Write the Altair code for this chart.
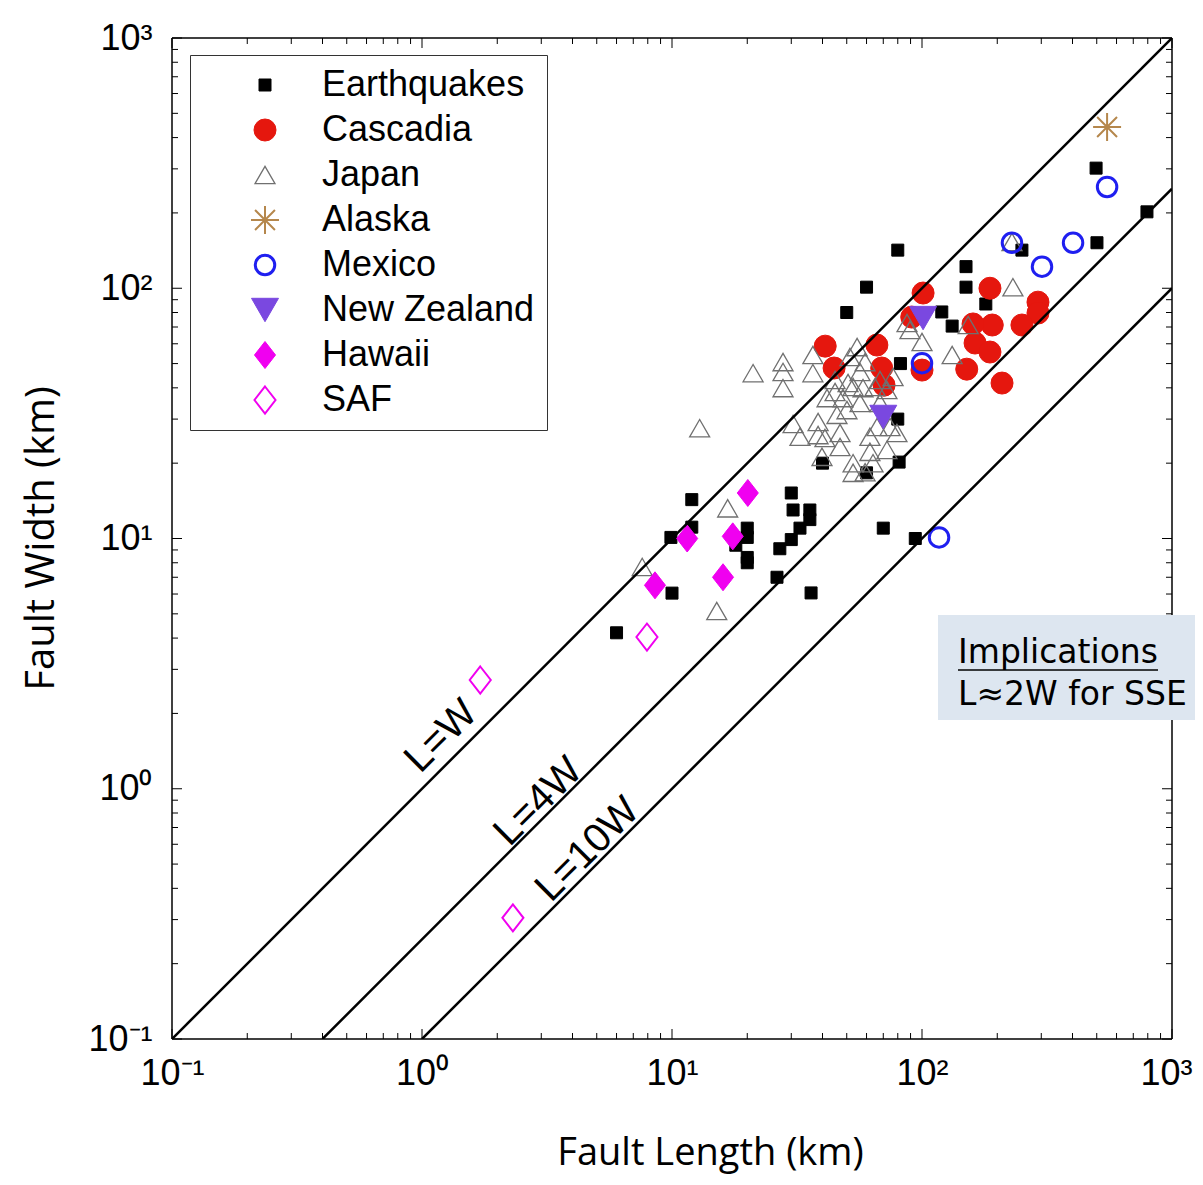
import altair as alt
import pandas as pd

# ---------------- data: Fault Length L (km), Fault Width W (km) ----------------
eq_L = [497, 794, 501, 251, 150, 150, 180, 120, 132, 80, 60, 50, 82, 80, 40, 60, 81,
        30, 30.5, 35.6, 35.6, 32.5, 30, 27, 26.3, 36, 70, 94,
        12, 9.9, 12, 20, 20, 18, 20, 20, 10, 6.0]
eq_W = [302, 202, 152, 142, 122, 101, 86.5, 80.4, 70.6, 142, 101, 80, 50, 30, 20, 18.3, 20.2,
        15.2, 13, 13, 11.9, 11, 9.9, 9.1, 7.0, 6.06, 11, 10,
        14.3, 10.1, 11.1, 11, 10.1, 9.4, 8.4, 8.0, 6.05, 4.2]

cas_L = [101, 91, 187, 291, 291, 251, 191, 160, 163, 187, 151, 209, 41, 44.5, 66, 69, 70.5, 100]
cas_W = [95.7, 76.7, 100, 88, 79.6, 71.3, 71.3, 72, 60.4, 55.6, 47.5, 41.8, 58.7, 48, 59.3, 48, 41, 47.1]

jap_L = [12.9, 21.1, 27.8, 27.8, 27.8, 36.6, 36.6, 30.5, 32.5, 38.4, 38.4, 47.0, 47.0, 41.7,
         48.3, 53.0, 50.1, 56.5, 59.2, 55.0, 64.9, 61.9, 61.9, 63.7, 53.0, 53.0, 44.9, 44.9,
         50.6, 56.5, 58.1, 67.9, 72.4, 67.9, 76.6, 100, 87.1, 132, 153, 231, 229, 74.5, 79.4,
         66.1, 40.9, 39.8, 59.2, 72.4, 16.7, 7.6, 15.1, 89.5, 51.5, 45.7]
jap_W = [27.6, 45.8, 50.7, 46.3, 39.9, 54.1, 45.8, 28.7, 25.5, 29.2, 25.9, 26.4, 23.2, 36.4,
         36.4, 40.3, 32.6, 34.8, 50.7, 58.2, 40.3, 25.5, 22.2, 20.0, 20.0, 18.3, 43.0, 38.5,
         41.8, 46.3, 39.9, 43.0, 39.2, 34.8, 44.2, 61.0, 72.6, 54.1, 71.3, 101, 153, 27.9, 26.4,
         27.9, 25.2, 21.2, 18.4, 22.6, 13.2, 7.7, 5.13, 68.1, 53.1, 31.2]

ala_L = [550]
ala_W = [441]

mex_L = [550, 229, 302, 402, 100, 117]
mex_W = [254, 152, 122, 152, 50.2, 10.1]

nz_L = [101, 70]
nz_W = [76, 30.6]

haw_L = [20.1, 11.5, 17.5, 16.0, 8.55]
haw_W = [15.2, 10.0, 10.2, 7.0, 6.5]

saf_L = [1.71, 7.94, 2.31]
saf_W = [2.72, 4.04, 0.305]

series_names = ["Earthquakes", "Cascadia", "Japan", "Alaska", "Mexico",
                "New Zealand", "Hawaii", "SAF"]

# reference lines L = k W
ref_names = ["L=W", "L=4W", "L=10W"]
ref_L = [[0.1, 1000], [0.4, 1000], [1, 1000]]
ref_W = [[0.1, 1000], [0.1, 250], [0.1, 100]]
ref_label_L = [1.29, 3.16, 4.97]
ref_label_W = [1.50, 0.822, 0.529]

major_ticks = [0.1, 1, 10, 100, 1000]
major_text = ["10\u207b\u00b9", "10\u2070", "10\u00b9", "10\u00b2", "10\u00b3"]
minor_ticks = [0.2, 0.3, 0.4, 0.5, 0.6, 0.7, 0.8, 0.9,
               2, 3, 4, 5, 6, 7, 8, 9,
               20, 30, 40, 50, 60, 70, 80, 90,
               200, 300, 400, 500, 600, 700, 800, 900]

box_lines = ["Implications", "L\u22482W for SSE"]

# ---------------- tables ----------------
all_L = [eq_L, cas_L, jap_L, ala_L, mex_L, nz_L, haw_L, saf_L]
all_W = [eq_W, cas_W, jap_W, ala_W, mex_W, nz_W, haw_W, saf_W]
pts = pd.concat([pd.DataFrame({"series": n, "L": l, "W": w})
                 for n, l, w in zip(series_names, all_L, all_W)], ignore_index=True)

lines_df = pd.concat([pd.DataFrame({"name": n, "L": l, "W": w})
                      for n, l, w in zip(ref_names, ref_L, ref_W)], ignore_index=True)
lab_df = pd.DataFrame({"name": ref_names, "L": ref_label_L, "W": ref_label_W})
major_df = pd.DataFrame({"v": major_ticks})
minor_df = pd.DataFrame({"v": minor_ticks})
one = pd.DataFrame({"k": [0]})

# ---------------- styling ----------------
W_PX, H_PX = 1000, 1001
TICK_FONT = "Liberation Sans"
TITLE_FONT = "Open Sans"
BOX_FONT = "DejaVu Sans"

xs = alt.Scale(type="log", domain=[0.1, 1000])
ys = alt.Scale(type="log", domain=[0.1, 1000])

label_expr = " : ".join(f"datum.value == {v} ? '{t}'" for v, t in zip(major_ticks, major_text)) + " : ''"

xaxis = alt.Axis(values=major_ticks, labelExpr=label_expr, ticks=False, domain=False, grid=False,
                 labelFont=TICK_FONT, labelFontSize=36, labelPadding=17, labelColor="black",
                 labelFlush=False, labelOverlap=False,
                 labelOffset={"condition": {"test": "datum.value >= 1000", "value": -6}, "value": 0},
                 title="Fault Length (km)", titleFont=TITLE_FONT, titleFontSize=38,
                 titleFontWeight="normal", titleColor="black",
                 titleX=538, titleY=114, titleBaseline="middle")
yaxis = alt.Axis(values=major_ticks, labelExpr=label_expr, ticks=False, domain=False, grid=False,
                 labelFont=TICK_FONT, labelFontSize=36, labelPadding=20, labelColor="black",
                 labelFlush=False, labelOverlap=False,
                 title="Fault Width (km)", titleFont=TITLE_FONT, titleFontSize=40,
                 titleFontWeight="normal", titleColor="black",
                 titleX=-131, titleY=500, titleBaseline="middle")

ASTER = "M-1,0L1,0M0,-1L0,1M-0.71,-0.71L0.71,0.71M-0.71,0.71L0.71,-0.71"
DIAM = "M0,-1L0.78,0L0,1L-0.78,0Z"
shapes = ["square", "circle", "triangle-up", ASTER, "circle", "triangle-down", DIAM, DIAM]
fills = ["black", "#e5170e", "transparent", "transparent", "transparent", "#7a48e0", "#f000f0", "transparent"]
strokes = ["black", "#e5170e", "#707070", "#b5874c", "#1f1ff0", "#7a48e0", "#f000f0", "#f000f0"]
sizes = [144, 484, 400, 784, 380, 729, 729, 729]
sws = [1, 1, 1.3, 2, 3, 1, 1, 2]

leg = alt.Legend(title=None, orient="none", legendX=18, legendY=17,
                 labelFont=TICK_FONT, labelFontSize=36, labelColor="black", labelLimit=500,
                 padding=12, rowPadding=9, symbolOffset=45, labelOffset=39,
                 strokeColor="#333333", fillColor="white")

points = alt.Chart(pts).mark_point(opacity=1).encode(
    x=alt.X("L:Q", scale=xs, axis=xaxis),
    y=alt.Y("W:Q", scale=ys, axis=yaxis),
    shape=alt.Shape("series:N", scale=alt.Scale(domain=series_names, range=shapes), legend=leg),
    fill=alt.Fill("series:N", scale=alt.Scale(domain=series_names, range=fills), legend=leg),
    stroke=alt.Stroke("series:N", scale=alt.Scale(domain=series_names, range=strokes), legend=leg),
    size=alt.Size("series:N", scale=alt.Scale(type="ordinal", domain=series_names, range=sizes), legend=leg),
    strokeWidth=alt.StrokeWidth("series:N", scale=alt.Scale(type="ordinal", domain=series_names, range=sws), legend=leg),
)

ref_lines = alt.Chart(lines_df).mark_line(color="black", strokeWidth=2.5, clip=True).encode(
    x=alt.X("L:Q", scale=xs, axis=xaxis),
    y=alt.Y("W:Q", scale=ys, axis=yaxis),
    detail="name:N",
)

ref_labels = alt.Chart(lab_df).mark_text(angle=315, align="center", baseline="alphabetic",
                                         font=TICK_FONT, fontSize=40, color="black").encode(
    x=alt.X("L:Q", scale=xs, axis=xaxis),
    y=alt.Y("W:Q", scale=ys, axis=yaxis),
    text="name:N",
)

def xticks(df, y0, y1):
    return alt.Chart(df).mark_rule(color="black", strokeWidth=1).encode(
        x=alt.X("v:Q", scale=xs, axis=xaxis), y=alt.value(y0), y2=alt.value(y1))

def yticks(df, x0, x1):
    return alt.Chart(df).mark_rule(color="black", strokeWidth=1).encode(
        y=alt.Y("v:Q", scale=ys, axis=yaxis), x=alt.value(x0), x2=alt.value(x1))

ticks = [
    xticks(major_df, H_PX, H_PX - 10), xticks(minor_df, H_PX, H_PX - 6),
    xticks(major_df, 0, 10), xticks(minor_df, 0, 6),
    yticks(major_df, 0, 10), yticks(minor_df, 0, 6),
    yticks(major_df, W_PX, W_PX - 10), yticks(minor_df, W_PX, W_PX - 6),
]

def frame_rule(**enc):
    return alt.Chart(one).mark_rule(color="black", strokeWidth=1.5).encode(**enc)

frame = [
    frame_rule(x=alt.value(0), x2=alt.value(W_PX), y=alt.value(0)),
    frame_rule(x=alt.value(0), x2=alt.value(W_PX), y=alt.value(H_PX)),
    frame_rule(y=alt.value(0), y2=alt.value(H_PX), x=alt.value(0)),
    frame_rule(y=alt.value(0), y2=alt.value(H_PX), x=alt.value(W_PX)),
]

box = alt.Chart(one).mark_rect(color="#dde6f0").encode(
    x=alt.value(766), x2=alt.value(1060), y=alt.value(577), y2=alt.value(682))
box_t1 = alt.Chart(one).mark_text(align="left", baseline="alphabetic", font=BOX_FONT,
                                  fontSize=33, color="black").encode(
    x=alt.value(786), y=alt.value(625), text=alt.value(box_lines[0]))
box_t2 = alt.Chart(one).mark_text(align="left", baseline="alphabetic", font=BOX_FONT,
                                  fontSize=33, color="black").encode(
    x=alt.value(786), y=alt.value(667), text=alt.value(box_lines[1]))
box_ul = alt.Chart(one).mark_rule(color="black", strokeWidth=1.5).encode(
    x=alt.value(786), x2=alt.value(986), y=alt.value(632))

chart = alt.layer(
    points, ref_lines, *ticks, *frame, ref_labels, box, box_t1, box_t2, box_ul
).resolve_scale(x="shared", y="shared").properties(
    width=W_PX, height=H_PX,
    autosize=alt.AutoSizeParams(type="none"),
    padding={"left": 164, "top": 30, "right": 23, "bottom": 138},
    background="white",
).configure_view(stroke="transparent")

chart.save("out.html", embed_options={"renderer": "svg", "actions": False})
